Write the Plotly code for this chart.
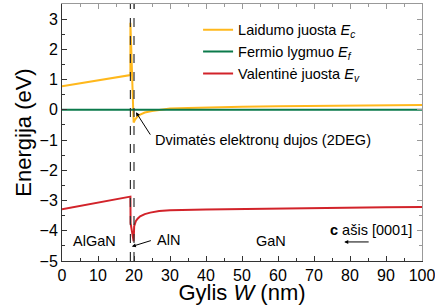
import plotly.graph_objects as go

# ---- data ----
ec_x = [0, 19, 19, 19.9, 20.3, 21, 21.7, 23, 25, 27, 30, 35, 40, 50, 60, 70, 80, 90, 100]
ec_y = [0.78, 1.15, 2.88, -0.42, -0.32, -0.22, -0.16, -0.09, -0.04, 0.0, 0.04, 0.06, 0.08, 0.10, 0.12, 0.13, 0.14, 0.15, 0.16]

ef_x = [0, 100]
ef_y = [0, 0]

ev_x = [0, 19, 19.05, 19.9, 20.05, 20.5, 21, 21.7, 23, 24.5, 27, 30, 40, 50, 60, 70, 80, 90, 100]
ev_y = [-3.29, -2.87, -3.75, -4.35, -3.85, -3.68, -3.6, -3.52, -3.45, -3.40, -3.35, -3.32, -3.30, -3.28, -3.26, -3.25, -3.23, -3.22, -3.21]

interfaces = [19, 20]

names = ["Laidumo juosta <i>E</i><sub><i>c</i></sub>",
         "Fermio lygmuo <i>E</i><sub><i>f</i></sub>",
         "Valentinė juosta <i>E</i><sub><i>v</i></sub>"]
colors = ["#FFB81C", "#0B7A4B", "#D2232A"]

x_ticks = list(range(0, 101, 10))
y_ticks = list(range(-5, 4, 1))

FONT = "Liberation Sans, Arial, sans-serif"

fig = go.Figure()
for xs, ys, nm, c in [(ec_x, ec_y, names[0], colors[0]),
                      (ef_x, ef_y, names[1], colors[1]),
                      (ev_x, ev_y, names[2], colors[2])]:
    fig.add_trace(go.Scatter(x=xs, y=ys, mode="lines", name=nm,
                             line=dict(color=c, width=2)))

# invisible trace for mirror axes
fig.add_trace(go.Scatter(x=[0], y=[0], xaxis="x2", yaxis="y2", mode="markers",
                         marker=dict(opacity=0), showlegend=False, hoverinfo="skip"))

for xi in interfaces:
    fig.add_shape(type="line", x0=xi, x1=xi, y0=-5, y1=3.5, xref="x", yref="y",
                  line=dict(color="#333333", width=1.2, dash="dash"))

ann_font = dict(family=FONT, size=14.5, color="black")
# 2DEG
fig.add_annotation(x=20.55, y=-0.08, ax=24.8, ay=-0.87, xref="x", yref="y",
                   axref="x", ayref="y", text="", showarrow=True,
                   arrowhead=2, arrowsize=0.8, arrowwidth=1, arrowcolor="black")
fig.add_annotation(x=25.4, y=-1.01, text="Dvimatės elektronų dujos (2DEG)",
                   showarrow=False, xanchor="left", yanchor="middle", font=ann_font)
# AlN
fig.add_annotation(x=19.4, y=-4.52, ax=25.1, ay=-4.31, xref="x", yref="y",
                   axref="x", ayref="y", text="", showarrow=True,
                   arrowhead=2, arrowsize=0.8, arrowwidth=1, arrowcolor="black")
fig.add_annotation(x=25.9, y=-4.31, text="AlN", showarrow=False,
                   xanchor="left", yanchor="middle", font=ann_font)
fig.add_annotation(x=9.0, y=-4.35, text="AlGaN", showarrow=False, font=ann_font)
fig.add_annotation(x=58.1, y=-4.35, text="GaN", showarrow=False, font=ann_font)
fig.add_annotation(x=85.7, y=-3.99, text="<b>c</b> ašis [0001]", showarrow=False, font=ann_font)
fig.add_annotation(x=78.4, y=-4.37, ax=85.6, ay=-4.37, xref="x", yref="y",
                   axref="x", ayref="y", text="", showarrow=True,
                   arrowhead=2, arrowsize=0.8, arrowwidth=1, arrowcolor="black")

fig.update_layout(
    width=435, height=305,
    margin=dict(l=62, r=13, t=4, b=44),
    plot_bgcolor="white", paper_bgcolor="white",
    font=dict(family=FONT, color="black"),
    showlegend=True,
    legend=dict(x=0.378, y=0.962, xanchor="left", yanchor="top",
                bgcolor="rgba(0,0,0,0)", font=dict(size=14.5, family=FONT),
                tracegroupgap=0, itemwidth=30),
    xaxis=dict(range=[0, 100], tickvals=x_ticks, ticks="inside", ticklen=5,
               tickcolor="#333", showline=True, linecolor="#333", linewidth=1,
               showgrid=False, zeroline=False, tickfont=dict(size=16),
               ticklabeloverflow="allow", automargin=False,
               minor=dict(ticks="inside", dtick=5, ticklen=3, tickcolor="#333"),
               title=dict(text="Gylis <i>W</i> (nm)", font=dict(size=22), standoff=0)),
    yaxis=dict(range=[-5, 3.5], tickvals=y_ticks, ticks="inside", ticklen=5,
               tickcolor="#333", showline=True, linecolor="#333", linewidth=1,
               showgrid=False, zeroline=False, tickfont=dict(size=16),
               automargin=False,
               minor=dict(ticks="inside", dtick=0.5, ticklen=3, tickcolor="#333"),
               title=dict(text="Energija (eV)", font=dict(size=22), standoff=1)),
    xaxis2=dict(range=[0, 100], overlaying="x", side="top", tickvals=x_ticks,
                ticks="inside", ticklen=5, tickcolor="#999", showline=True,
                linecolor="#999", linewidth=1, showticklabels=False, showgrid=False,
                zeroline=False, automargin=False,
                minor=dict(ticks="inside", dtick=5, ticklen=3, tickcolor="#999")),
    yaxis2=dict(range=[-5, 3.5], overlaying="y", side="right", tickvals=y_ticks,
                ticks="inside", ticklen=5, tickcolor="#999", showline=True,
                linecolor="#999", linewidth=1, showticklabels=False, showgrid=False,
                zeroline=False, automargin=False,
                minor=dict(ticks="inside", dtick=0.5, ticklen=3, tickcolor="#999")),
)

fig.write_html("out.html", config={"displayModeBar": False},
               post_script="document.body.style.margin='0px';document.body.style.overflow='hidden';")
